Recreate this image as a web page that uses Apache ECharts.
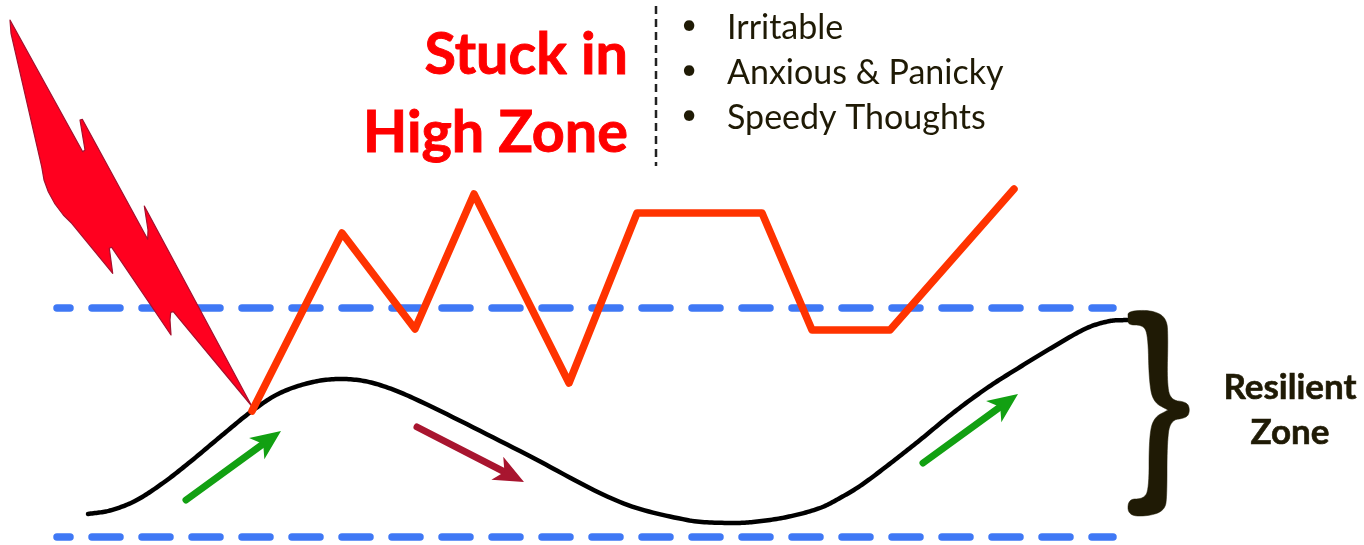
<!DOCTYPE html>
<html>
<head>
<meta charset="utf-8">
<style>html,body{margin:0;padding:0;background:#fff}#c{width:1364px;height:545px}</style>
<script src="https://cdn.jsdelivr.net/npm/echarts@6/dist/echarts.min.js"></script>
</head>
<body>
<div id="c"></div>
<script>
var highBound = [[57,308],[1113,308]];
var lowBound = [[57,537],[1113,537]];
var divider = [[656,6],[656,166]];
var resilientCurve = [[88,514],[110,510.5],[135,501],[163,483],[190,462],[220,437],[252,411],[280,393],[313,382],[343,379],[373,383],[413,398],[520,451],[620,502],[687,520],[727,523],[753,522],[787,517],[820,508],[840,498],[860,486],[887,466],[920,440],[953,413],[987,388],[1020,367],[1053,347],[1087,328],[1110,321],[1127,320]];
var stuckLine = [[252,411],[342,233],[415,329],[474,194],[569,383],[637,213],[762,213],[812,330],[890,330],[1014,189]];
var bolt = [[10,20],[82.7,151.7],[85,150],[80,120],[82.3,119.3],[147.7,239.3],[148,230],[144.3,206],[251.7,406],[173.3,311.7],[170.7,312.3],[170,320],[171,335],[111.7,247.3],[109.3,248.3],[112.7,273.3],[71.7,223.3],[63.3,215],[55,204],[48.3,191.7],[44,180],[41.7,166.7],[11,33.3]];
var brace = [[1128,318],[1128,311],[1152,310],[1167,318],[1168,340],[1167,380],[1170,400],[1187,402],[1190,410],[1187,418],[1170,420],[1167,445],[1167,495],[1165,510],[1150,516],[1128,516],[1128,499],[1143,499],[1149,490],[1149,440],[1153,418],[1168,410],[1168,410],[1168,410],[1153,402],[1149,380],[1148,335],[1143,325],[1128,325]];
var greenArrowA = [[186,500],[281,431]];
var greenArrowB = [[923,463],[1018,394]];
var redArrow = [[417,427],[524,482]];

function chaikin(points, rounds) {
  var pts = points;
  for (var r = 0; r < rounds; r++) {
    var out = [];
    for (var i = 0; i < pts.length; i++) {
      var a = pts[i], b = pts[(i + 1) % pts.length];
      out.push([a[0] * 0.75 + b[0] * 0.25, a[1] * 0.75 + b[1] * 0.25]);
      out.push([a[0] * 0.25 + b[0] * 0.75, a[1] * 0.25 + b[1] * 0.75]);
    }
    pts = out;
  }
  return pts;
}
// Draws a smooth curve through the given pixel points (chord-length Hermite spline).
function splinePath(p) {
  var n = p.length, t = [0], i;
  for (i = 1; i < n; i++) {
    t.push(t[i - 1] + Math.hypot(p[i][0] - p[i - 1][0], p[i][1] - p[i - 1][1]));
  }
  var m = p.map(function (q, k) {
    var a = p[Math.max(k - 1, 0)], b = p[Math.min(k + 1, n - 1)];
    var d = t[Math.min(k + 1, n - 1)] - t[Math.max(k - 1, 0)];
    return [(b[0] - a[0]) / d, (b[1] - a[1]) / d];
  });
  var out = [];
  for (i = 0; i < n - 1; i++) {
    var h = t[i + 1] - t[i];
    for (var s = 0; s < 16; s++) {
      var u = s / 16, u2 = u * u, u3 = u2 * u;
      var h00 = 2 * u3 - 3 * u2 + 1, h10 = u3 - 2 * u2 + u, h01 = -2 * u3 + 3 * u2, h11 = u3 - u2;
      out.push([
        h00 * p[i][0] + h10 * h * m[i][0] + h01 * p[i + 1][0] + h11 * h * m[i + 1][0],
        h00 * p[i][1] + h10 * h * m[i][1] + h01 * p[i + 1][1] + h11 * h * m[i + 1][1]
      ]);
    }
  }
  out.push(p[n - 1]);
  return out;
}
function curveSeries(points, color, lw, z) {
  return {
    type: 'custom', coordinateSystem: 'cartesian2d', silent: true, z: z, clip: false,
    data: [0],
    renderItem: function (params, api) {
      return {
        type: 'polyline',
        shape: { points: splinePath(points.map(function (q) { return api.coord(q); })) },
        style: { fill: null, stroke: color, lineWidth: lw, lineCap: 'round', lineJoin: 'round' }
      };
    }
  };
}
function polygonSeries(points, fill, stroke, lw, z) {
  return {
    type: 'custom', coordinateSystem: 'cartesian2d', silent: true, z: z, clip: false,
    data: [0],
    renderItem: function (params, api) {
      return {
        type: 'polygon',
        shape: { points: points.map(function (p) { return api.coord(p); }) },
        style: { fill: fill, stroke: stroke, lineWidth: lw, lineJoin: 'round' }
      };
    }
  };
}
function arrowSeries(pts, color, z) {
  return {
    type: 'custom', coordinateSystem: 'cartesian2d', silent: true, z: z, clip: false,
    data: [0],
    renderItem: function (params, api) {
      var a = api.coord(pts[0]), b = api.coord(pts[1]);
      var dx = b[0] - a[0], dy = b[1] - a[1], len = Math.sqrt(dx * dx + dy * dy);
      var ux = dx / len, uy = dy / len, hl = 30, hw = 13, notch = 22;
      var bx = b[0] - ux * hl, by = b[1] - uy * hl;
      var nx = b[0] - ux * notch, ny = b[1] - uy * notch;
      return {
        type: 'group',
        children: [
          { type: 'line', shape: { x1: a[0], y1: a[1], x2: nx, y2: ny },
            style: { stroke: color, lineWidth: 7, lineCap: 'round' } },
          { type: 'polygon',
            shape: { points: [[b[0], b[1]], [bx - uy * hw, by + ux * hw], [nx, ny], [bx + uy * hw, by - ux * hw]] },
            style: { fill: color } }
        ]
      };
    }
  };
}
function boundSeries(data) {
  return {
    type: 'line', data: data, symbol: 'none', silent: true, z: 2,
    lineStyle: { color: '#3F78F5', width: 7.5, type: [28, 22], dashOffset: 15, cap: 'round' }
  };
}
var ink = '#1F1A05';
var font = 'Lato, Carlito, sans-serif';
function label(x, y, text, size, weight, color, align, stroke) {
  return { type: 'text', x: x, y: y, z: 20, silent: true,
    style: { text: text, fontSize: size, fontWeight: weight, fill: color, fontFamily: font,
      align: align, verticalAlign: 'middle', stroke: stroke ? color : null, lineWidth: stroke || 0 } };
}

var chart = echarts.init(document.getElementById('c'), null, { renderer: 'canvas' });
chart.setOption({
  animation: false,
  backgroundColor: '#fff',
  grid: { left: 0, right: 0, top: 0, bottom: 0 },
  xAxis: { type: 'value', min: 0, max: 1364, show: false },
  yAxis: { type: 'value', min: 0, max: 545, inverse: true, show: false },
  series: [
    boundSeries(highBound),
    boundSeries(lowBound),
    { type: 'line', data: divider, symbol: 'none', silent: true, z: 2,
      lineStyle: { color: '#222', width: 2.5, type: [8, 5] } },
    curveSeries(resilientCurve, '#000', 4.5, 3),
    polygonSeries(bolt, '#FF001F', '#A5102E', 1.2, 4),
    { type: 'line', data: stuckLine, symbol: 'none', silent: true, z: 5,
      lineStyle: { color: '#FF3300', width: 7.5, cap: 'round', join: 'round' } },
    polygonSeries(chaikin(brace, 3), ink, ink, 0.5, 6),
    arrowSeries(greenArrowA, '#12A012', 7),
    arrowSeries(greenArrowB, '#12A012', 7),
    arrowSeries(redArrow, '#A8152F', 7)
  ],
  graphic: { elements: [
    label(628, 55, 'Stuck in', 57.5, 700, '#FF0000', 'right', 0.9),
    label(628, 133, 'High Zone', 57.5, 700, '#FF0000', 'right', 0.9),
    label(681, 25, '\u2022', 28, 400, ink, 'left'),
    label(681, 70, '\u2022', 28, 400, ink, 'left'),
    label(681, 115, '\u2022', 28, 400, ink, 'left'),
    label(727, 28, 'Irritable', 34, 400, ink, 'left'),
    label(727, 73, 'Anxious & Panicky', 34, 400, ink, 'left'),
    label(727, 118, 'Speedy Thoughts', 34, 400, ink, 'left'),
    label(1290, 388, 'Resilient', 35, 700, ink, 'center', 0.6),
    label(1290, 433, 'Zone', 35, 700, ink, 'center', 0.6)
  ] }
});
</script>
</body>
</html>
